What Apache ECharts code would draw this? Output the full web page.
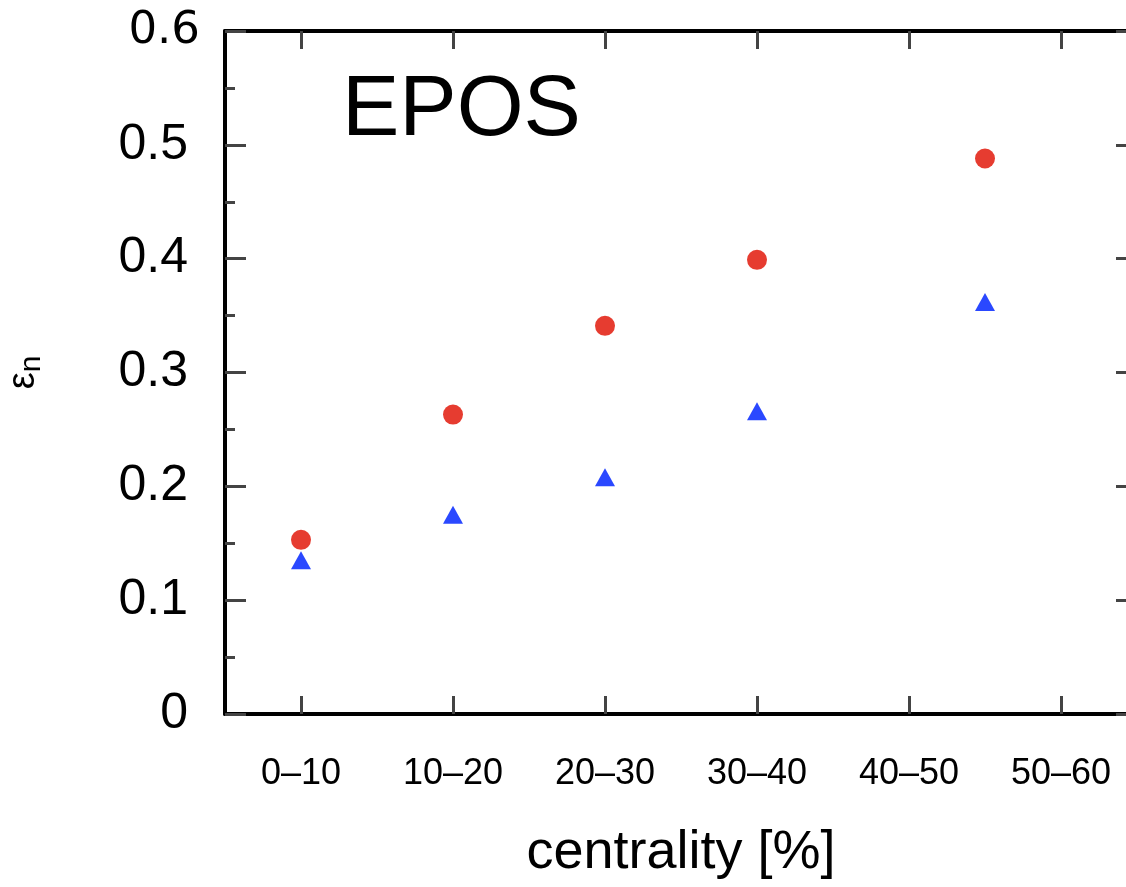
<!DOCTYPE html>
<html>
<head>
<meta charset="utf-8">
<script src="https://cdn.jsdelivr.net/npm/echarts@6/dist/echarts.min.js"></script>
<style>
html,body{margin:0;padding:0;background:#fff;}
#chart{width:1126px;height:887px;}
</style>
</head>
<body>
<div id="chart"></div>
<script>
// centrality classes (tick labels on the x axis)
const categories = ['0–10', '10–20', '20–30', '30–40', '40–50', '50–60'];
// centrality (%) at which each point is drawn
const centrality = [5, 15, 25, 35, 50];
// eccentricity values
const epsRed = [0.153, 0.263, 0.341, 0.399, 0.488];   // red circles
const epsBlue = [0.135, 0.175, 0.208, 0.266, 0.362];  // blue triangles
const yTickLabels = ['0', '0.1', '0.2', '0.3', '0.4', '0.5', '0.6'];

const chart = echarts.init(document.getElementById('chart'));
const FONT = '"Liberation Sans", Arial, Helvetica, sans-serif';
const axisLineStyle = { color: '#000', width: 4 };
const tickStyle = { color: '#444', width: 3 };

const option = {
  backgroundColor: '#fff',
  animation: false,
  grid: { left: 225, right: -11, top: 31, bottom: 173, containLabel: false, outerBoundsMode: 'none' },
  graphic: [{
    type: 'text', left: 342, top: 68,
    style: { text: 'EPOS', font: '86px ' + FONT, fill: '#000' }
  }],
  xAxis: [
    {
      type: 'category', position: 'bottom', data: categories, boundaryGap: true,
      axisLine: { show: true, onZero: false, lineStyle: axisLineStyle },
      axisTick: { show: true, inside: true, alignWithLabel: true, length: 18, lineStyle: tickStyle },
      axisLabel: { interval: 0, margin: 42, fontSize: 36, fontFamily: FONT, color: '#000' },
      splitLine: { show: false },
      name: 'centrality [%]', nameLocation: 'middle', nameGap: 112,
      nameTextStyle: { fontSize: 54, fontFamily: FONT, color: '#000' }
    },
    {
      type: 'category', position: 'top', data: categories, boundaryGap: true,
      axisLine: { show: true, onZero: false, lineStyle: axisLineStyle },
      axisTick: { show: true, inside: true, alignWithLabel: true, length: 18, lineStyle: tickStyle },
      axisLabel: { show: false },
      splitLine: { show: false }
    },
    {
      type: 'value', position: 'bottom', min: 0, max: 60, show: false,
      axisLine: { show: false, onZero: false }, axisTick: { show: false },
      axisLabel: { show: false }, splitLine: { show: false }
    }
  ],
  yAxis: [
    {
      type: 'value', position: 'left', min: 0, max: 0.6, interval: 0.1,
      axisLine: { show: true, onZero: false, lineStyle: axisLineStyle },
      axisTick: { show: true, inside: true, length: 21, lineStyle: tickStyle },
      minorTick: { show: true, splitNumber: 2, length: 10, lineStyle: tickStyle },
      splitLine: { show: false },
      axisLabel: {
        margin: 25, color: '#000',
        formatter: function (v) {
          const lab = yTickLabels[Math.round(v * 10)];
          return Math.round(v * 10) === 6 ? '{t|' + lab + '}' : '{n|' + lab + '}';
        },
        rich: {
          n: { fontSize: 50, fontFamily: FONT, color: '#000', padding: [0, 12, 0, 0] },
          t: { fontSize: 45, fontFamily: '"DejaVu Sans", sans-serif', color: '#000' }
        }
      },
      name: '{e|ε}{s|n}', nameLocation: 'middle', nameRotate: 90, nameGap: 178,
      nameTextStyle: {
        rich: {
          e: { fontSize: 38, fontFamily: FONT, color: '#000', verticalAlign: 'top', lineHeight: 42 },
          s: { fontSize: 30, fontFamily: FONT, color: '#000', verticalAlign: 'bottom', lineHeight: 42, padding: [14, 0, 0, 0] }
        }
      }
    },
    {
      type: 'value', position: 'right', min: 0, max: 0.6, interval: 0.1,
      axisLine: { show: true, onZero: false, lineStyle: axisLineStyle },
      axisTick: { show: true, inside: true, length: 21, lineStyle: tickStyle },
      minorTick: { show: true, splitNumber: 2, length: 10, lineStyle: tickStyle },
      splitLine: { show: false },
      axisLabel: { show: false }
    }
  ],
  series: [
    {
      type: 'scatter', xAxisIndex: 2, yAxisIndex: 0,
      data: centrality.map((c, i) => [c, epsRed[i]]),
      symbol: 'circle', symbolSize: 20,
      itemStyle: { color: '#e63c30', opacity: 1 }
    },
    {
      type: 'scatter', xAxisIndex: 2, yAxisIndex: 0,
      data: centrality.map((c, i) => [c, epsBlue[i]]),
      symbol: 'triangle', symbolSize: [20, 18],
      itemStyle: { color: '#2a48ff', opacity: 1 }
    }
  ]
};
chart.setOption(option);
</script>
</body>
</html>
